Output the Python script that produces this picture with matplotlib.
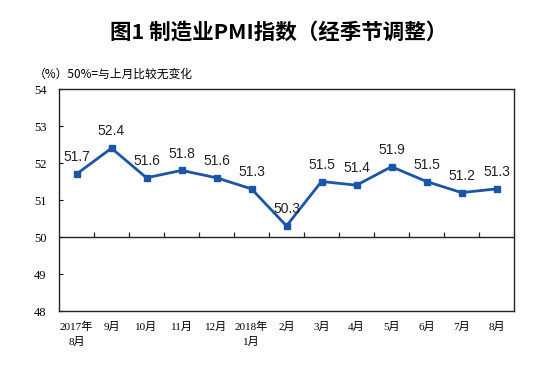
import numpy as np
import matplotlib
matplotlib.use('Agg')
import matplotlib.pyplot as plt

# datos: PMI manufacturero (ajustado estacionalmente)
meses = ['2017年\n8月', '9月', '10月', '11月', '12月', '2018年\n1月', '2月',
         '3月', '4月', '5月', '6月', '7月', '8月']
pmi = [51.7, 52.4, 51.6, 51.8, 51.6, 51.3, 50.3, 51.5, 51.4, 51.9, 51.5, 51.2, 51.3]
yticks = [48, 49, 50, 51, 52, 53, 54]

plt.rcParams['font.family'] = ['Noto Sans CJK SC', 'DejaVu Sans']
azul = '#1b56a6'

fig = plt.figure(figsize=(5.57, 3.65), dpi=100)
ax = fig.add_axes([59/557, 1-311/365, (514-59)/557, (311-89)/365])

x = np.arange(len(meses))
ax.plot(x, pmi, color=azul, lw=2, marker='s', markersize=3.8)

for xi, v in zip(x, pmi):
    ax.annotate(f'{v:.1f}', (xi, v), xytext=(0, 7), textcoords='offset points',
                ha='center', va='bottom', fontsize=10, color='#222222',
                family=['Liberation Sans', 'DejaVu Sans'])

# linea de 50 con marcas entre categorias
ax.axhline(50, color='#222222', lw=1)
ax.vlines(x[:-1] + 0.5, 50, 50.13, color='#222222', lw=0.9)

ax.set_xlim(-0.5, len(meses) - 0.5)
ax.set_ylim(yticks[0], yticks[-1])
ax.set_yticks(yticks)
ax.set_yticklabels([str(k) for k in yticks], family=['Liberation Serif', 'DejaVu Serif'],
                   fontsize=9)
ax.tick_params(axis='y', direction='in', length=3, pad=9, width=0.8)
ax.set_xticks(x)
ax.set_xticklabels(meses, family=['Liberation Serif', 'Noto Sans CJK SC'], fontsize=8,
                   linespacing=1.5)
ax.tick_params(axis='x', length=0, pad=8)
for s in ax.spines.values():
    s.set_color('#222222')
    s.set_linewidth(1)

fig.text(0.5, 1-32/365, '图1 制造业PMI指数（经季节调整）', ha='center', va='center',
         fontsize=15.5, fontweight='bold')
fig.text(34/557, 1-74/365, '（%）50%=与上月比较无变化', ha='left', va='center',
         fontsize=8.5)

fig.savefig('out.png', dpi=100, facecolor='white')
